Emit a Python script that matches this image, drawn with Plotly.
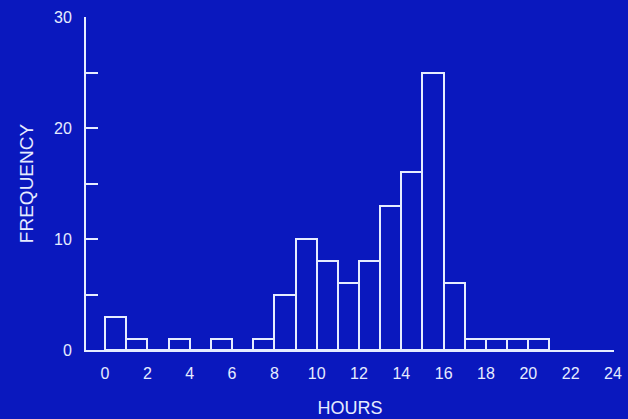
import plotly.graph_objects as go

# Histogram bins: hour starting each 1-hour bin, and frequency
bin_start = [0, 1, 2, 3, 4, 5, 6, 7, 8, 9, 10, 11, 12, 13, 14, 15, 16, 17, 18, 19, 20]
frequency = [3, 1, 0, 1, 0, 1, 0, 1, 5, 10, 8, 6, 8, 13, 16, 25, 6, 1, 1, 1, 1]

x_tick_vals = [0, 2, 4, 6, 8, 10, 12, 14, 16, 18, 20, 22, 24]
y_tick_vals = [0, 5, 10, 15, 20, 25, 30]
y_tick_text = ["0", "", "10", "", "20", "", "30"]

BG = "#0a18be"
FG = "#e6ecff"
FONT = "Liberation Sans, Arial, sans-serif"

centers = [b + 0.5 for b in bin_start]

fig = go.Figure()
fig.add_trace(go.Bar(
    x=centers, y=frequency, width=1,
    marker=dict(color=BG, line=dict(color=FG, width=2)),
    hoverinfo="skip",
))

fig.update_layout(
    width=628, height=419,
    paper_bgcolor=BG, plot_bgcolor=BG,
    margin=dict(l=86, r=14, t=17, b=69, autoexpand=False),
    showlegend=False,
    font=dict(family=FONT, color=FG, size=16),
    bargap=0,
)
fig.update_xaxes(
    range=[-0.9, 24.05],
    tickvals=x_tick_vals, ticktext=[str(v) for v in x_tick_vals],
    ticks="", showgrid=False, zeroline=False,
    showline=True, linecolor=FG, linewidth=2,
    ticklabelstandoff=8,
    tickfont=dict(size=16),
    automargin=False,
    title=dict(text="HOURS", font=dict(size=18), standoff=20),
)
fig.update_yaxes(
    range=[0, 30],
    tickvals=y_tick_vals, ticktext=y_tick_text,
    ticks="inside", ticklen=12, tickwidth=2, tickcolor=FG,
    showgrid=False, zeroline=False,
    showline=True, linecolor=FG, linewidth=2,
    ticklabelstandoff=9,
    tickfont=dict(size=16),
    automargin=False,
    title=dict(text="FREQUENCY", font=dict(size=19), standoff=15),
)

fig.write_html(
    "out.html",
    config={"displayModeBar": False},
    post_script="document.body.style.margin='0';document.body.style.background='" + BG + "';",
)
